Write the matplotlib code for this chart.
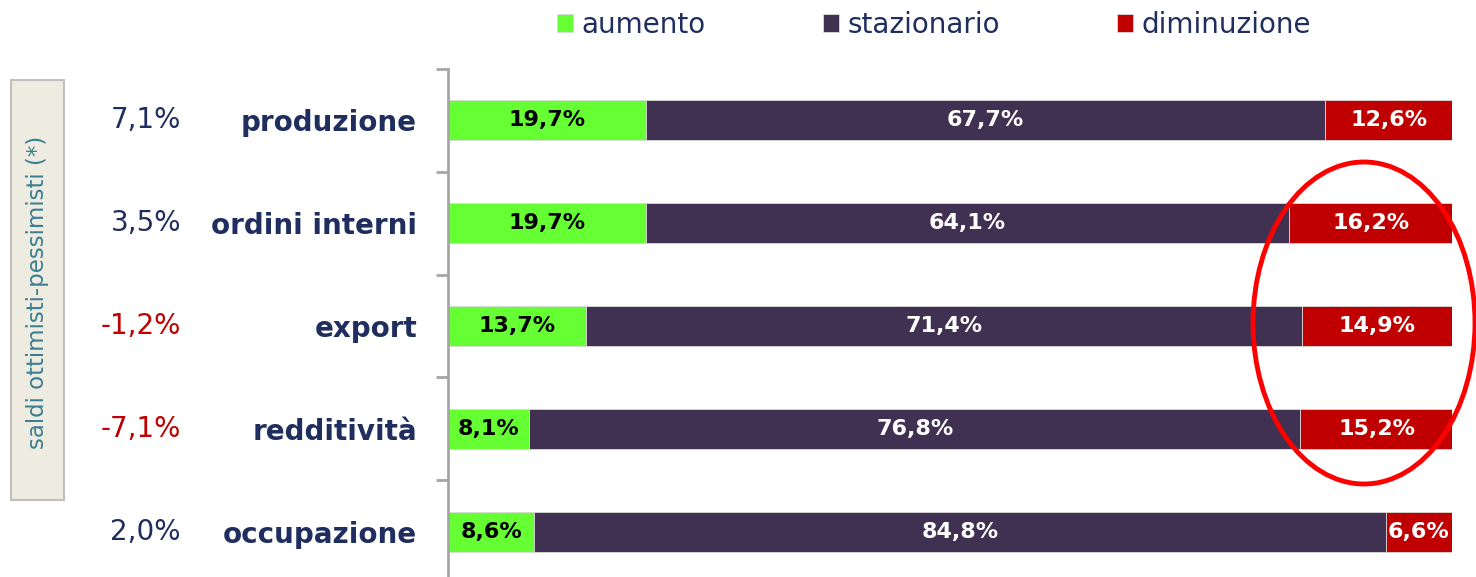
import numpy as np
import matplotlib
matplotlib.use("Agg")
import matplotlib.pyplot as plt
from matplotlib.patches import Ellipse, FancyBboxPatch
from matplotlib.transforms import blended_transform_factory

# dati
categorie = ["produzione", "ordini interni", "export", "redditività", "occupazione"]
aumento = [19.7, 19.7, 13.7, 8.1, 8.6]
stazionario = [67.7, 64.1, 71.4, 76.8, 84.8]
diminuzione = [12.6, 16.2, 14.9, 15.2, 6.6]
saldi = [7.1, 3.5, -1.2, -7.1, 2.0]

verde = "#66FF33"
viola = "#403152"
rosso = "#C00000"
blu = "#1F2D5F"

plt.rcParams["font.family"] = ["DejaVu Sans"]


def fmt(v):
    return ("%.1f%%" % v).replace(".", ",")


fig = plt.figure(figsize=(14.76, 5.77), dpi=100)
ax = fig.add_axes([448 / 1476, 1 - 583 / 577, 1004 / 1476, 514 / 577])

y = np.arange(len(categorie))
h = 0.39
b1 = ax.barh(y, aumento, height=h, color=verde, edgecolor="#D9D9D9", linewidth=0.6, label="aumento")
b2 = ax.barh(y, stazionario, left=aumento, height=h, color=viola, edgecolor="#D9D9D9", linewidth=0.6, label="stazionario")
sx = np.array(aumento) + np.array(stazionario)
b3 = ax.barh(y, diminuzione, left=sx, height=h, color=rosso, edgecolor="#D9D9D9", linewidth=0.6, label="diminuzione")

for i in range(len(categorie)):
    ax.text(aumento[i] / 2, y[i], fmt(aumento[i]), ha="center", va="center",
            fontsize=16, fontweight="bold", color="black")
    ax.text(aumento[i] + stazionario[i] / 2, y[i], fmt(stazionario[i]), ha="center", va="center",
            fontsize=16, fontweight="bold", color="white")
    ax.text(sx[i] + diminuzione[i] / 2, y[i], fmt(diminuzione[i]), ha="center", va="center",
            fontsize=16, fontweight="bold", color="white")

ax.set_xlim(0, 100)
ax.set_ylim(len(categorie) - 0.5, -0.5)
ax.set_xticks([])
ax.set_yticks(np.arange(len(categorie) + 1) - 0.5)
ax.set_yticklabels([])
ax.tick_params(axis="y", length=9, width=2, color="#A6A6A6")
for s in ["top", "right", "bottom"]:
    ax.spines[s].set_visible(False)
ax.spines["left"].set_color("#A6A6A6")
ax.spines["left"].set_linewidth(2)

# etichette a sinistra
tr = blended_transform_factory(fig.transFigure, ax.transData)
for i, c in enumerate(categorie):
    ax.text(417 / 1476, y[i] + 0.03, c, transform=tr, ha="right", va="center",
            fontsize=20, fontweight="bold", color=blu, clip_on=False)
    col = rosso if saldi[i] < 0 else blu
    ax.text(181 / 1476, y[i], fmt(saldi[i]), transform=tr, ha="right", va="center",
            fontsize=20, color=col, clip_on=False)

# riquadro verticale
box = FancyBboxPatch((11 / 1476, 1 - 500 / 577), 53 / 1476, 420 / 577,
                     boxstyle="square,pad=0", transform=fig.transFigure,
                     facecolor="#EEEBE0", edgecolor="#BFBFBF", linewidth=1.5)
fig.patches.append(box)
fig.text(38 / 1476, 1 - 292 / 577, "saldi ottimisti-pessimisti (*)", rotation=90,
         ha="center", va="center", fontsize=16.5, color="#3B7F93")

# legenda
fig.legend(handles=[b1, b2, b3], loc="center", bbox_to_anchor=(934 / 1476, 1 - 25 / 577),
           ncol=3, frameon=False, fontsize=20, handlelength=0.6, handleheight=0.6,
           handletextpad=0.3, columnspacing=4.2, labelcolor=blu)

# ellisse rossa
ell = Ellipse((1364 / 1476, 1 - 323 / 577), 222 / 1476, 322 / 577, transform=fig.transFigure,
              fill=False, edgecolor="#FF0000", linewidth=3.5)
fig.patches.append(ell)

fig.savefig("out.png", dpi=100)
